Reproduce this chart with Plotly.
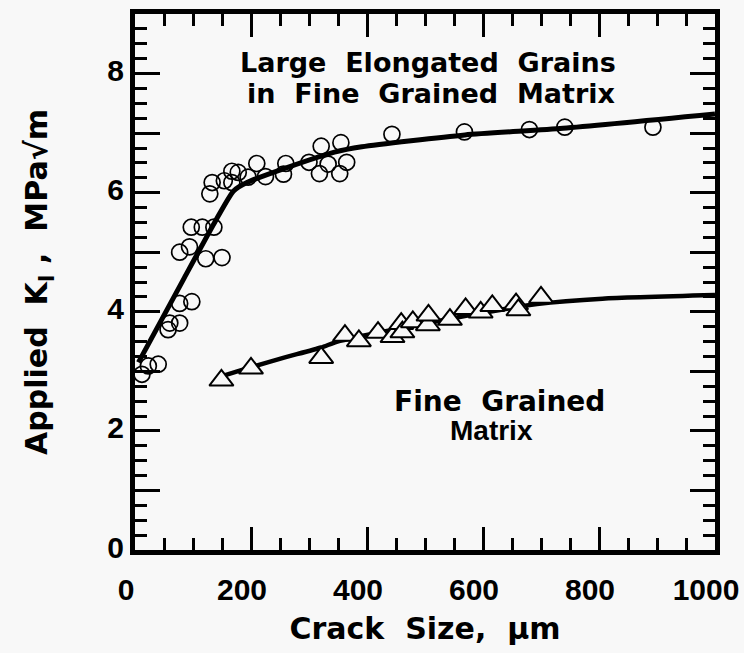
import plotly.graph_objects as go

# Large elongated grains in fine grained matrix (circles)
large_x = [321, 355, 210, 260, 300, 333, 365, 318, 353, 256, 225, 195, 167, 178, 154, 167,
           133, 129, 97, 116, 136, 77, 94, 122, 150, 77, 98, 60, 77, 57, 12, 23, 40,
           443, 568, 680, 741, 893]
large_y = [6.78, 6.84, 6.49, 6.49, 6.51, 6.48, 6.51, 6.32, 6.32, 6.31, 6.27, 6.26, 6.36, 6.34, 6.20, 6.17,
           6.17, 5.98, 5.42, 5.42, 5.42, 5.00, 5.09, 4.89, 4.91, 4.14, 4.17, 3.81, 3.81, 3.70, 2.95, 3.09, 3.12,
           6.98, 7.02, 7.06, 7.10, 7.10]

# Fit curve for large grains
large_fit_x = [6, 85, 139, 170, 193, 262, 344, 391, 569, 738, 1000]
large_fit_y = [3.15, 4.57, 5.53, 6.03, 6.17, 6.42, 6.68, 6.77, 6.97, 7.08, 7.32]

# Fine grained matrix (triangles)
fine_x = [149, 200, 321, 362, 386, 419, 444, 459, 461, 479, 505, 506, 543, 570, 596, 616, 657, 661, 700]
fine_y = [2.85, 3.05, 3.23, 3.60, 3.51, 3.65, 3.58, 3.80, 3.66, 3.83, 3.78, 3.94, 3.87, 4.05, 3.99, 4.10, 4.13, 4.03, 4.24]

# Fit curve for fine grained matrix
fine_fit_x = [150, 200, 257, 321, 349, 462, 580, 693, 806, 1000]
fine_fit_y = [2.92, 3.07, 3.23, 3.40, 3.50, 3.73, 3.95, 4.13, 4.22, 4.28]

x_ticks = [0, 200, 400, 600, 800, 1000]
x_ticktext = ["0", "200", "400", "600", "800", "1000"]
y_ticks = [0, 2, 4, 6, 8]
y_ticktext = ["0", "2", "4", "6", "8"]
y_unlabeled_ticks = [1, 3, 5, 7]

BG = "#f8f8f8"
fig = go.Figure()

fig.add_trace(go.Scatter(x=large_fit_x, y=large_fit_y, mode="lines",
                         line=dict(color="black", width=5, shape="spline", smoothing=0.6),
                         showlegend=False, hoverinfo="skip"))
fig.add_trace(go.Scatter(x=fine_fit_x, y=fine_fit_y, mode="lines",
                         line=dict(color="black", width=4.5, shape="spline", smoothing=0.6),
                         showlegend=False, hoverinfo="skip"))
fig.add_trace(go.Scatter(x=large_x, y=large_y, mode="markers",
                         marker=dict(symbol="circle-open", size=16, color="black",
                                     line=dict(color="black", width=1.7)),
                         showlegend=False))
fig.add_trace(go.Scatter(x=fine_x, y=fine_y, mode="markers",
                         marker=dict(symbol="triangle-up", size=21, color=BG,
                                     line=dict(color="black", width=2)),
                         showlegend=False))

tick_font = dict(family="Liberation Sans", size=30, color="black", weight="bold")
title_font = dict(family="DejaVu Sans", size=30, color="black", weight="bold")

fig.update_xaxes(range=[0, 1000], tickmode="array", tickvals=x_ticks, ticktext=x_ticktext,
                 ticks="inside", ticklen=23, tickwidth=3, tickcolor="black",
                 minor=dict(dtick=50, ticks="inside", ticklen=12, tickwidth=3, tickcolor="black"),
                 showline=True, linewidth=5, linecolor="black", mirror="ticks",
                 showgrid=False, zeroline=False, tickfont=tick_font, ticklabelstandoff=9,
                 ticklabelshift=-9, ticklabeloverflow="allow", automargin=False,
                 title=dict(text="Crack\u00a0 Size,\u00a0 \u03bcm", font=title_font, standoff=14))

fig.update_layout(
    yaxis=dict(range=[0, 9], tickmode="array", tickvals=y_ticks, ticktext=y_ticktext,
               ticks="inside", ticklen=25, tickwidth=3, tickcolor="black",
               minor=dict(dtick=0.25, ticks="inside", ticklen=12, tickwidth=3, tickcolor="black"),
               showline=True, linewidth=5, linecolor="black", mirror="ticks",
               showgrid=False, zeroline=False, tickfont=tick_font, ticklabelstandoff=0,
               ticklabelshift=-3, ticklabeloverflow="allow", automargin=False,
               title=dict(text="Applied\u00a0 K<sub>I</sub> ,\u00a0 MPa\u221am", font=title_font, standoff=52)),
    yaxis2=dict(range=[0, 9], overlaying="y", side="left", tickmode="array",
                tickvals=y_unlabeled_ticks, ticks="inside", ticklen=25, tickwidth=3, tickcolor="black",
                showticklabels=False, showline=True, linewidth=5, linecolor="black", mirror="ticks",
                showgrid=False, zeroline=False, automargin=False),
)
# invisible anchor trace so the secondary tick axis is drawn
fig.add_trace(go.Scatter(x=[None], y=[None], yaxis="y2", showlegend=False, hoverinfo="skip"))

ann_font = dict(family="DejaVu Sans", size=27, color="black", weight="bold")
fig.add_annotation(x=505, y=8.18, xref="x", yref="y", text="Large\u00a0 Elongated\u00a0 Grains",
                   showarrow=False, font=ann_font)
fig.add_annotation(x=510, y=7.67, xref="x", yref="y", text="in\u00a0 Fine\u00a0 Grained\u00a0 Matrix",
                   showarrow=False, font=ann_font)
fig.add_annotation(x=628, y=2.5, xref="x", yref="y", text="Fine\u00a0 Grained",
                   showarrow=False, font=dict(family="DejaVu Sans", size=28, color="black", weight="bold"))
fig.add_annotation(x=615, y=2.0, xref="x", yref="y", text="Matrix",
                   showarrow=False, font=dict(family="Liberation Sans", size=28, color="black", weight="bold"))

fig.update_layout(width=744, height=653, margin=dict(l=135, r=29, t=14, b=103),
                  paper_bgcolor=BG, plot_bgcolor=BG)

fig.write_html("out.html")
